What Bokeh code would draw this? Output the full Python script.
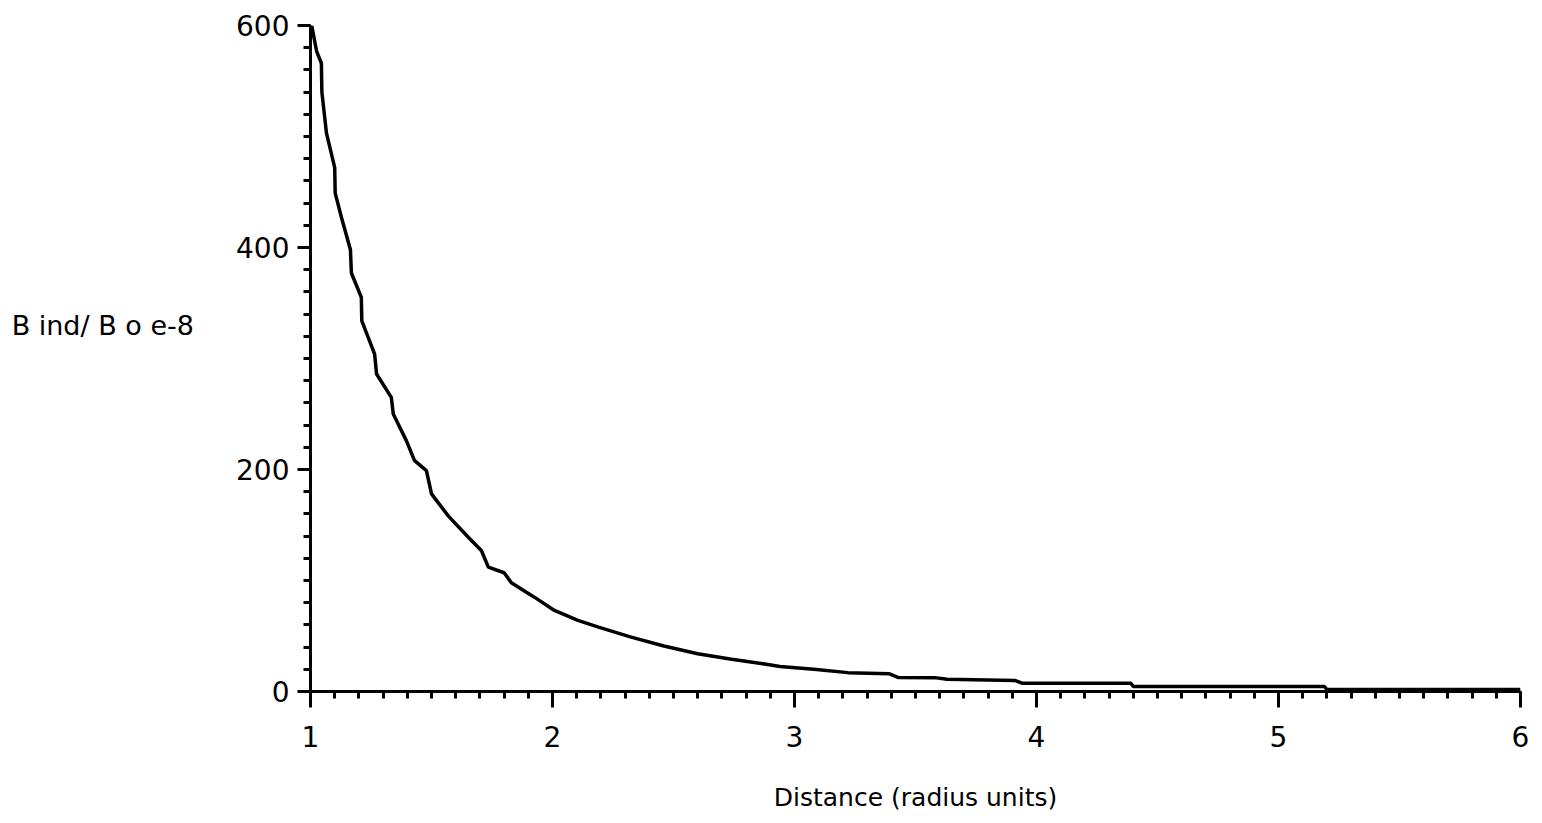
from bokeh.plotting import figure
from bokeh.models import Range1d, SingleIntervalTicker, LinearAxis, FixedTicker
from bokeh.embed import file_html
from bokeh.resources import INLINE

# Values
distance = [1.005, 1.025, 1.045, 1.047, 1.066, 1.100, 1.102, 1.128, 1.165, 1.169,
            1.210, 1.212, 1.265, 1.273, 1.334, 1.342, 1.396, 1.430, 1.479, 1.500,
            1.570, 1.652, 1.706, 1.735, 1.800, 1.830, 1.925, 2.008, 2.105, 2.190,
            2.325, 2.460, 2.600, 2.740, 2.870, 2.940, 3.080, 3.220, 3.390, 3.430,
            3.580, 3.630, 3.910, 3.940, 4.390, 4.400, 5.190, 5.200, 6.000]
b_ratio = [600, 577, 566, 540, 503, 472, 449, 427, 398, 377,
           355, 334, 304, 286, 265, 250, 226, 208, 199, 178,
           158, 139, 127, 112, 107, 98, 85, 73, 64, 58,
           49, 41, 34, 29, 25, 22.5, 20, 17, 16, 12.6,
           12.5, 11, 10, 7.5, 7.5, 4.5, 4.5, 1.8, 1.8]

x_label = "Distance (radius units)"
y_label = "B ind/ B o  e-8"
y_label_level = 330   # height (in data units) at which the y title sits

p = figure(width=1540, height=822, output_backend="svg", toolbar_location=None,
           x_range=Range1d(1, 6), y_range=Range1d(0, 600),
           min_border_left=310, min_border_right=20,
           min_border_top=25, min_border_bottom=131)
p.outline_line_color = None
p.xgrid.visible = False
p.ygrid.visible = False
p.background_fill_color = "white"
p.border_fill_color = "white"

p.line(distance, b_ratio, line_color="black", line_width=3.5)

FONT = "DejaVu Sans"

xa = p.xaxis[0]
xa.ticker = SingleIntervalTicker(interval=1, num_minor_ticks=10)
xa.axis_line_width = 3
xa.axis_line_color = "black"
xa.major_tick_line_width = 3
xa.minor_tick_line_width = 3
xa.major_tick_out = 16
xa.major_tick_in = 0
xa.minor_tick_out = 7
xa.minor_tick_in = 0
xa.major_label_text_font = FONT
xa.major_label_text_font_size = "28px"
xa.major_label_text_color = "black"
xa.major_label_standoff = 18
xa.axis_label = x_label
xa.axis_label_text_font = FONT
xa.axis_label_text_font_size = "25px"
xa.axis_label_text_font_style = "normal"
xa.axis_label_text_color = "black"
xa.axis_label_standoff = 33

ya = p.yaxis[0]
ya.ticker = SingleIntervalTicker(interval=200, num_minor_ticks=10)
ya.axis_line_width = 3
ya.axis_line_color = "black"
ya.major_tick_line_width = 3
ya.minor_tick_line_width = 3
ya.major_tick_out = 13
ya.major_tick_in = 0
ya.minor_tick_out = 7
ya.minor_tick_in = 0
ya.major_label_text_font = FONT
ya.major_label_text_font_size = "28px"
ya.major_label_text_color = "black"
ya.major_label_standoff = 8

# horizontal y title, placed at its height by a bare extra axis left of the main one
p.extra_y_ranges = {"lab": Range1d(0, 600)}
lab_axis = LinearAxis(y_range_name="lab", ticker=FixedTicker(ticks=[y_label_level]),
                      major_label_overrides={y_label_level: y_label})
lab_axis.axis_line_color = None
lab_axis.major_tick_line_color = None
lab_axis.minor_tick_line_color = None
lab_axis.major_tick_out = 0
lab_axis.minor_tick_out = 0
lab_axis.major_tick_in = 0
lab_axis.minor_tick_in = 0
lab_axis.major_label_text_font = FONT
lab_axis.major_label_text_font_size = "27px"
lab_axis.major_label_text_color = "black"
lab_axis.major_label_standoff = 31
p.add_layout(lab_axis, "left")

open("out.html", "w").write(file_html(p, INLINE))
